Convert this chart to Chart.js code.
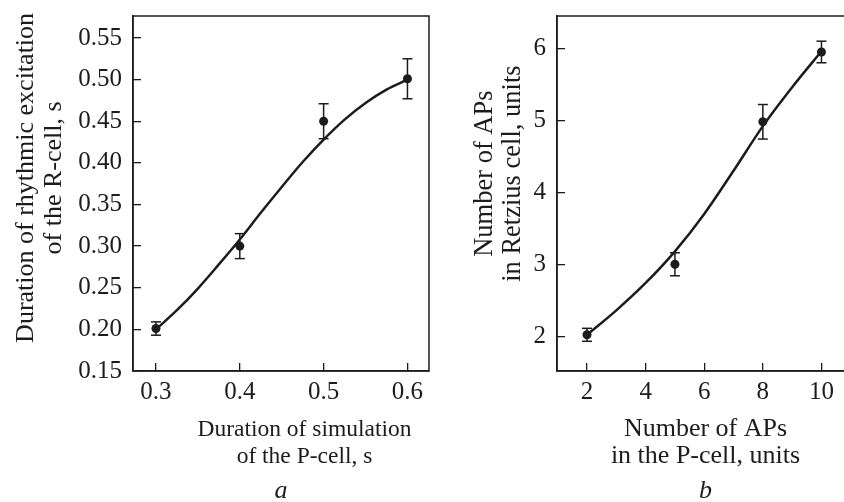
<!DOCTYPE html>
<html>
<head>
<meta charset="utf-8">
<script src="https://cdn.jsdelivr.net/npm/chart.js@4.4.1/dist/chart.umd.min.js"></script>
<style>
    html, body { margin: 0; padding: 0; background: #fff; overflow: hidden; }
    body { width: 844px; height: 502px; position: relative; }
    .panel { position: absolute; top: 0; height: 502px; }
    #panelA { left: 0; width: 440px; }
    #panelB { left: 444px; width: 420px; }
</style>
</head>
<body>
<div class="panel" id="panelA"><canvas id="chartA" width="440" height="502"></canvas></div>
<div class="panel" id="panelB"><canvas id="chartB" width="420" height="502"></canvas></div>
<script>
// panel a: duration of P-cell stimulation vs rhythmic excitation of R-cell
const simDuration = [0.3, 0.4, 0.5, 0.6]
const excitationDuration = [0.201, 0.300, 0.450, 0.501]
const excitationError = [0.008, 0.015, 0.021, 0.024]
const fitSimDuration = [0.300, 0.325, 0.350, 0.375, 0.400, 0.425, 0.450, 0.475, 0.500, 0.525, 0.550, 0.575, 0.600]
const fitExcitation  = [0.200, 0.223, 0.249, 0.278, 0.308, 0.340, 0.371, 0.401, 0.428, 0.452, 0.472, 0.488, 0.500]
const ticksXA = [0.3, 0.4, 0.5, 0.6]
const ticksYA = [0.15, 0.20, 0.25, 0.30, 0.35, 0.40, 0.45, 0.50, 0.55]

// panel b: number of APs in P-cell vs APs in Retzius cell
const pCellAPs = [2, 5, 8, 10]
const retziusAPs = [2.02, 3.00, 4.98, 5.95]
const retziusError = [0.09, 0.16, 0.24, 0.15]
const fitPCellAPs = [2, 3, 4, 5, 6, 7, 8, 9, 10]
const fitRetzius  = [2.02, 2.36, 2.74, 3.18, 3.70, 4.30, 4.92, 5.46, 5.96]
const ticksXB = [2, 4, 6, 8, 10]
const ticksYB = [2, 3, 4, 5, 6]

const INK = '#1c1c1c'
const SERIF = '"Liberation Serif", "DejaVu Serif", serif'

function zip(xs, ys) {
    return xs.map((x, i) => ({x: x, y: ys[i]}))
}

function errorBarPoints(xs, ys, errs) {
    const pts = []
    xs.forEach((x, i) => {
        pts.push({x: x, y: ys[i] - errs[i]}, {x: x, y: ys[i] + errs[i]}, {x: x, y: null})
    })
    return pts
}

const frameBox = {
    id: 'frameBox',
    afterDraw(chart) {
        const {ctx, chartArea} = chart
        ctx.save()
        ctx.strokeStyle = INK
        ctx.lineWidth = 1.5
        ctx.strokeRect(chartArea.left, chartArea.top, chartArea.right - chartArea.left, chartArea.bottom - chartArea.top)
        ctx.restore()
    }
}

function buildChart(canvasId, cfg) {
    return new Chart(document.getElementById(canvasId), {
        type: 'scatter',
        data: {
            datasets: [
                {
                    data: zip(cfg.fitX, cfg.fitY),
                    showLine: true,
                    borderColor: INK,
                    borderWidth: 2.5,
                    pointRadius: 0,
                    cubicInterpolationMode: 'monotone'
                },
                {
                    data: errorBarPoints(cfg.x, cfg.y, cfg.err),
                    showLine: true,
                    spanGaps: false,
                    borderColor: INK,
                    borderWidth: 1.5,
                    pointStyle: 'line',
                    pointRadius: 5,
                    pointBorderWidth: 1.5,
                    pointBorderColor: INK
                },
                {
                    data: zip(cfg.x, cfg.y),
                    pointRadius: 4.5,
                    pointBackgroundColor: INK,
                    pointBorderColor: INK,
                    pointBorderWidth: 0
                }
            ]
        },
        options: {
            responsive: false,
            animation: false,
            layout: { padding: cfg.padding },
            plugins: {
                legend: { display: false },
                tooltip: { enabled: false },
                title: {
                    display: true,
                    text: cfg.letter,
                    position: 'bottom',
                    fullSize: false,
                    color: INK,
                    padding: { top: 9, bottom: 0 },
                    font: { family: SERIF, size: 26, style: 'italic', weight: 'normal', lineHeight: '22px' }
                }
            },
            scales: {
                x: {
                    type: 'linear',
                    min: cfg.xMin,
                    max: cfg.xMax,
                    afterBuildTicks: axis => { axis.ticks = cfg.ticksX.map(v => ({value: v})) },
                    afterFit: scale => {
                        scale.height = cfg.xAxisHeight
                        scale.paddingLeft = 0
                        scale.paddingRight = 0
                    },
                    grid: { drawOnChartArea: false, drawTicks: true, tickLength: -8, color: INK, lineWidth: 1.3 },
                    border: { display: true, color: INK, width: 1.5 },
                    ticks: {
                        autoSkip: false,
                        maxRotation: 0,
                        padding: 14,
                        color: INK,
                        font: { family: SERIF, size: 25 },
                        callback: cfg.xFormat
                    },
                    title: {
                        display: true,
                        text: cfg.xTitle,
                        color: INK,
                        padding: { top: 0, bottom: 1 },
                        font: { family: SERIF, size: cfg.xTitleSize, lineHeight: '27px' }
                    }
                },
                y: {
                    type: 'linear',
                    min: cfg.yMin,
                    max: cfg.yMax,
                    afterBuildTicks: axis => { axis.ticks = cfg.ticksY.map(v => ({value: v})) },
                    afterFit: scale => {
                        scale.width = cfg.yAxisWidth
                        scale.paddingTop = 0
                        scale.paddingBottom = 0
                    },
                    grid: { drawOnChartArea: false, drawTicks: true, tickLength: -8, color: INK, lineWidth: 1.3 },
                    border: { display: true, color: INK, width: 1.5 },
                    ticks: {
                        autoSkip: false,
                        padding: 19,
                        color: INK,
                        font: { family: SERIF, size: 25 },
                        callback: cfg.yFormat
                    },
                    title: {
                        display: true,
                        text: cfg.yTitle,
                        color: INK,
                        padding: { top: cfg.yTitlePad, bottom: 0 },
                        font: { family: SERIF, size: cfg.yTitleSize, lineHeight: '28px' }
                    }
                }
            }
        },
        plugins: [frameBox]
    })
}

buildChart('chartA', {
    x: simDuration, y: excitationDuration, err: excitationError,
    fitX: fitSimDuration, fitY: fitExcitation,
    ticksX: ticksXA, ticksY: ticksYA,
    xMin: 0.2726, xMax: 0.6257, yMin: 0.15, yMax: 0.5764,
    xFormat: v => v.toFixed(1), yFormat: v => v.toFixed(2),
    xTitle: ['\u2003\u2003Duration of simulation', '\u2003\u2003of the P-cell, s'],
    xTitleSize: 23.5,
    yTitle: ['\u2003\u2009Duration of rhythmic excitation', '\u2003\u2009of the R-cell, s'],
    yTitleSize: 26,
    yTitlePad: 12,
    letter: 'a',
    padding: { top: 16, right: 11, left: 0, bottom: 0 },
    yAxisWidth: 133,
    xAxisHeight: 100
})

buildChart('chartB', {
    x: pCellAPs, y: retziusAPs, err: retziusError,
    fitX: fitPCellAPs, fitY: fitRetzius,
    ticksX: ticksXB, ticksY: ticksYB,
    xMin: 0.976, xMax: 11.11, yMin: 1.517, yMax: 6.45,
    xFormat: v => String(v), yFormat: v => String(v),
    xTitle: ['Number of APs', 'in the P-cell, units'],
    xTitleSize: 26,
    yTitle: ['\u2003\u2002Number of APs', '\u2003\u2002in Retzius cell, units'],
    yTitleSize: 26.5,
    yTitlePad: 27,
    letter: 'b',
    padding: { top: 16, right: 10, left: 0, bottom: 0 },
    yAxisWidth: 113,
    xAxisHeight: 100
})
</script>
</body>
</html>
